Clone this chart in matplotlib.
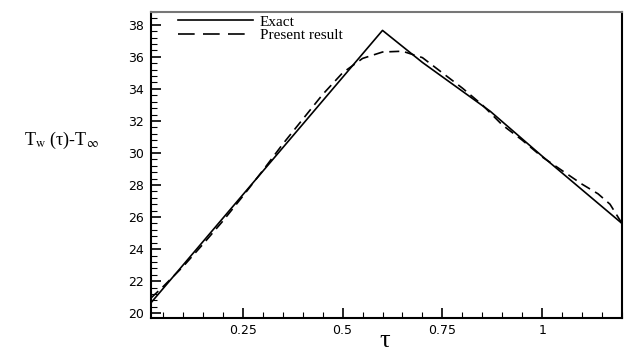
import matplotlib
matplotlib.use("Agg")
import matplotlib.pyplot as plt
from matplotlib.ticker import MultipleLocator, FixedLocator
from matplotlib.lines import Line2D

# Data
tau_exact = [0.02, 0.6, 0.7, 0.87, 1.0, 1.2]
T_exact = [20.65, 37.65, 35.65, 32.6, 29.8, 25.6]

tau_present = [0.02, 0.05, 0.10, 0.15, 0.20, 0.25, 0.30, 0.35, 0.40, 0.45, 0.50,
               0.55, 0.60, 0.65, 0.70, 0.75, 0.80, 0.85, 0.90, 0.95, 1.00,
               1.05, 1.10, 1.14, 1.17, 1.20]
T_present = [20.95, 21.65, 22.9, 24.3, 25.75, 27.3, 28.9, 30.55, 32.1, 33.65, 35.0,
             35.9, 36.3, 36.35, 35.95, 35.0, 34.05, 33.0, 31.75, 30.8, 29.75,
             28.9, 28.05, 27.45, 26.8, 25.6]

xticks = [0.25, 0.5, 0.75, 1.0]
xticklabels = ["0.25", "0.5", "0.75", "1"]
yticks = [20, 22, 24, 26, 28, 30, 32, 34, 36, 38]

plt.rcParams["mathtext.fontset"] = "stix"

fig = plt.figure(figsize=(6.25, 3.52), dpi=100)
ax = fig.add_axes([0.2416, 0.0966, 0.7536, 0.8694])

ax.plot(tau_exact, T_exact, color="black", lw=1.2)
ax.plot(tau_present, T_present, color="black", lw=1.2, dashes=(6, 3.5))

ax.set_xlim(0.02, 1.2)
ax.set_ylim(19.7, 38.8)
ax.xaxis.set_major_locator(FixedLocator(xticks))
ax.set_xticklabels(xticklabels)
ax.xaxis.set_minor_locator(MultipleLocator(0.05))
ax.yaxis.set_major_locator(FixedLocator(yticks))
ax.yaxis.set_minor_locator(MultipleLocator(0.4))

ax.tick_params(which="both", direction="in", top=False, right=False,
               labelsize=9, width=1.2)
ax.tick_params(which="major", length=7)
ax.tick_params(axis="y", which="major", pad=5)
ax.tick_params(axis="x", which="major", pad=4)
ax.tick_params(which="minor", length=4, width=0.8)
for lab in ax.get_xticklabels() + ax.get_yticklabels():
    lab.set_fontfamily("DejaVu Sans")

for s in ax.spines.values():
    s.set_linewidth(1.5)
ax.spines["top"].set_color("#777777")

fig.text(0.616, 0.0, "τ", fontsize=19, family="Liberation Serif",
         ha="center", va="bottom")
fig.text(0.099, 0.602, r"T$_{\mathrm{w}}$ (τ)-T$_{\infty}$", fontsize=13,
         family="Liberation Serif", ha="center", va="center")

handles = [Line2D([], [], color="black", lw=1.2),
           Line2D([], [], color="black", lw=1.2, dashes=(10, 5))]
leg = ax.legend(handles, ["Exact", "Present result"], loc="upper left",
                bbox_to_anchor=(0.038, 1.02), frameon=False,
                prop={"family": "Liberation Serif", "size": 11},
                handlelength=4.9, handletextpad=0.45, labelspacing=0.0,
                borderaxespad=0.2)

fig.savefig("out.png", dpi=100)
